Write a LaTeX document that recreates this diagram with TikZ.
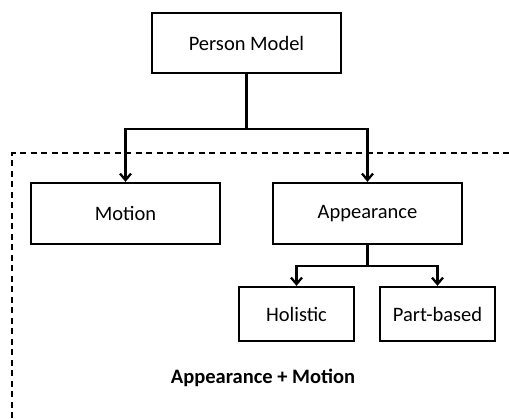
\documentclass[tikz,border=0pt]{standalone}
\usepackage{fontspec}
\setmainfont{Carlito}
\usetikzlibrary{arrows.meta}
\begin{document}
\begin{tikzpicture}[x=1pt,y=-1pt,
  box/.style={draw, line width=2.3pt, minimum width=189pt, minimum height=61pt,
              inner sep=0pt, font=\fontsize{20.5}{24}\selectfont},
  smallbox/.style={box, minimum width=115pt, minimum height=54pt},
  link/.style={line width=2.3pt, -{Straight Barb[length=6.5pt,width=11pt,line width=2.3pt]}},
  region/.style={line width=2pt, dash pattern=on 6pt off 4.5pt}]
\useasboundingbox (0,0) rectangle (509,418);

% nodes
\node[box, minimum height=60pt] (pm) at (246.5,43) {Person Model};
\node[box] (mo) at (125.5,213.5) {Motion};
\node[box] (ap) at (367.5,213.5) {Appearance};
\node[smallbox] (ho) at (296.5,314) {Holistic};
\node[smallbox] (pb) at (437.5,314) {Part-based};
\node[font=\bfseries\fontsize{20.5}{24}\selectfont] (lbl) at (263,378) {Appearance + Motion};

% dashed region border
\coordinate (rb) at (12,418);
\coordinate (rc) at (12,153);
\coordinate (rr) at (509,153);
\draw[region] (rb) -- (rc) -- (rr);

% tree connectors
\draw[link] (pm.south) -- ++(0,55) -| (mo.north);
\draw[link] (pm.south) -- ++(0,55) -| (ap.north);
\draw[link] (ap.south) -- ++(0,21) -| (ho.north);
\draw[link] (ap.south) -- ++(0,21) -| (pb.north);
\end{tikzpicture}
\end{document}
